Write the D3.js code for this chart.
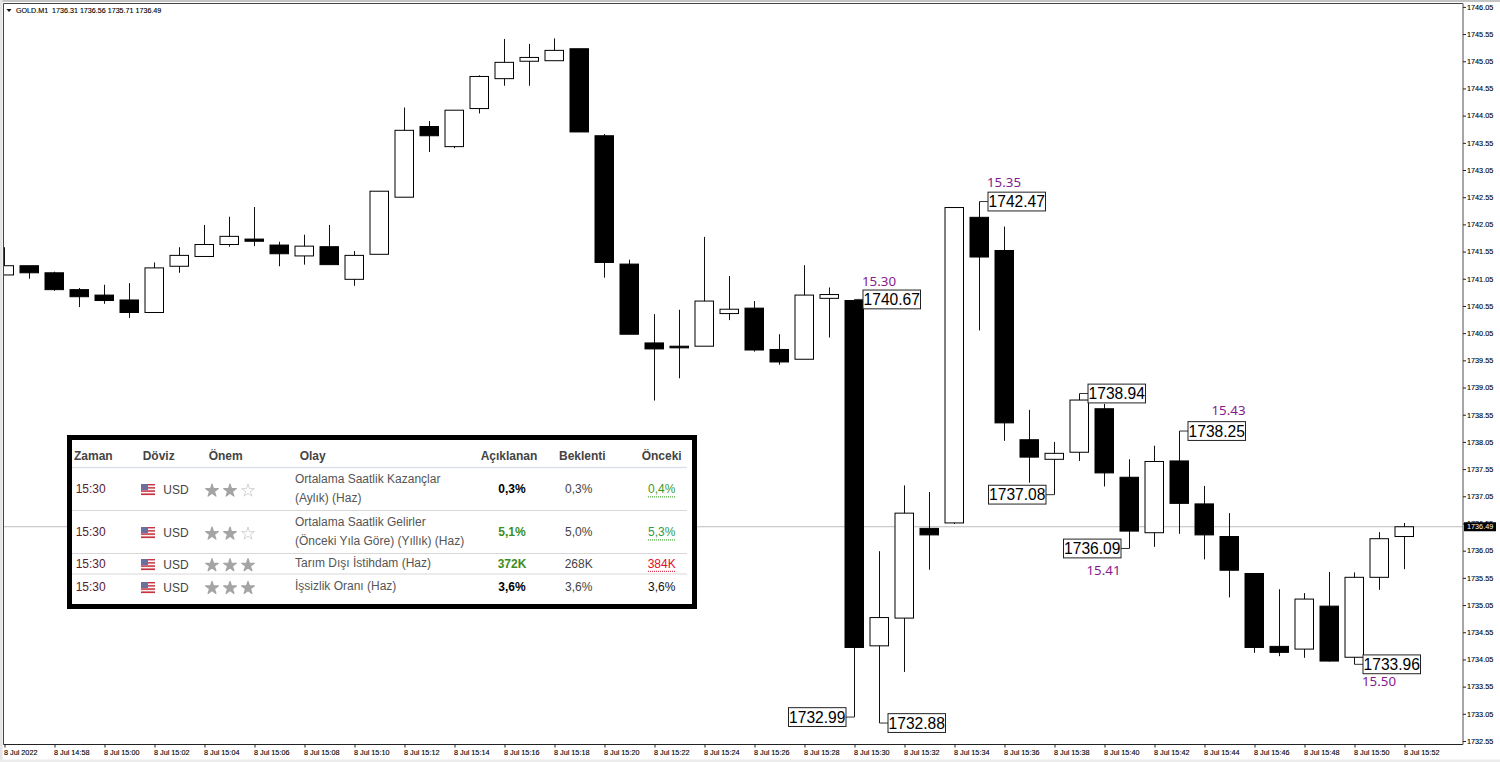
<!DOCTYPE html>
<html><head><meta charset="utf-8">
<script src="https://cdnjs.cloudflare.com/ajax/libs/d3/7.8.5/d3.min.js"></script>
<style>
html,body{margin:0;padding:0;background:#fff;overflow:hidden}
svg{display:block}
text{white-space:pre}
</style></head><body>
<svg id="c" width="1500" height="762"></svg>
<script>
const symbolName = "GOLD.M1";
const lastOHLC = ["1736.31","1736.56","1735.71","1736.49"];
const startMinute = 14*60+56;
const opens  = [1741.12,1741.29,1741.16,1740.85,1740.75,1740.66,1740.43,1741.28,1741.46,1741.68,1741.78,1741.67,1741.47,1741.64,1741.04,1741.50,1742.55,1743.85,1743.48,1744.18,1744.73,1745.05,1745.06,1745.28,1743.68,1741.32,1739.87,1739.81,1739.81,1740.41,1740.51,1739.75,1739.57,1740.69,1740.65,1734.30,1734.81,1736.46,1736.56,1742.18,1741.57,1738.09,1737.73,1737.86,1738.66,1737.40,1736.38,1737.70,1736.91,1736.31,1735.63,1734.29,1734.24,1735.03,1734.09,1735.56,1736.31];
const highs  = [1741.63,1741.29,1741.18,1740.88,1740.94,1740.97,1741.35,1741.63,1742.04,1742.19,1742.37,1741.73,1741.86,1742.04,1741.56,1742.66,1744.20,1743.95,1744.15,1744.79,1745.46,1745.37,1745.47,1745.28,1743.71,1741.40,1740.40,1740.48,1741.82,1741.10,1740.64,1740.03,1741.30,1740.89,1740.67,1736.04,1737.25,1737.13,1742.36,1742.47,1742.01,1738.64,1738.05,1738.94,1738.75,1737.73,1737.98,1738.25,1737.24,1736.74,1735.63,1735.34,1735.27,1735.66,1735.65,1736.39,1736.56];
const lows   = [1741.12,1741.05,1740.83,1740.53,1740.59,1740.33,1740.43,1741.16,1741.46,1741.64,1741.65,1741.28,1741.31,1741.31,1740.92,1741.50,1742.55,1743.38,1743.45,1744.09,1744.60,1744.60,1745.06,1743.75,1741.07,1740.03,1738.81,1739.22,1739.81,1740.29,1739.71,1739.47,1739.57,1739.97,1732.99,1732.88,1733.82,1735.70,1736.54,1740.10,1738.07,1737.30,1737.08,1737.70,1737.23,1736.09,1736.12,1736.36,1735.89,1735.19,1734.17,1734.11,1734.08,1734.01,1733.96,1735.33,1735.71];
const closes = [1741.29,1741.16,1740.85,1740.72,1740.65,1740.43,1741.25,1741.48,1741.68,1741.83,1741.74,1741.51,1741.65,1741.31,1741.48,1742.66,1743.78,1743.68,1744.15,1744.77,1745.03,1745.12,1745.25,1743.75,1741.35,1740.03,1739.76,1739.78,1740.64,1740.49,1739.74,1739.52,1740.75,1740.76,1734.27,1734.82,1736.74,1736.34,1742.36,1741.45,1738.40,1737.77,1737.84,1738.82,1737.48,1736.41,1737.69,1736.92,1736.34,1735.69,1734.27,1734.18,1735.16,1734.02,1735.56,1736.27,1736.49];

const priceTicks = d3.range(0,28).map(i => +(1732.55+i*0.5).toFixed(2));
const timeTickMinutes = d3.range(0,57,2);

// swing annotations: candle index, price, time text, box side, time-label offset
const swingIdx    = [34,35,34,39,42,43,45,47,54];
const swingPrice  = [1732.99,1732.88,1740.67,1742.47,1737.08,1738.94,1736.09,1738.25,1733.96];
const swingSide   = ["left","right","right","right","left","right","left","right","right"];
const swingTime   = ["","","15.30","15.35","","","15.41","15.43","15.50"];
const swingTimeDy = [0,0,-13.7,-14.3,0,0,26.7,-16,21.3];
const swingTimeDx = [0,0,-1,-1,0,0,23,23.5,-1];

// calendar table
const headers = ["Zaman","Döviz","Önem","Olay","Açıklanan","Beklenti","Önceki"];
const rowTimes = ["15:30","15:30","15:30","15:30"];
const rowCurrency = ["USD","USD","USD","USD"];
const rowStars = [2,2,3,3];
const rowEvents = [["Ortalama Saatlik Kazançlar","(Aylık) (Haz)"],["Ortalama Saatlik Gelirler","(Önceki Yıla Göre) (Yıllık) (Haz)"],["Tarım Dışı İstihdam (Haz)"],["İşsizlik Oranı (Haz)"]];
const rowActual = ["0,3%","5,1%","372K","3,6%"];
const rowForecast = ["0,3%","5,0%","268K","3,6%"];
const rowPrevious = ["0,4%","5,3%","384K","3,6%"];
const actualColors = ["#000","#3c8f1e","#3c8f1e","#000"];
const previousColors = ["#3c9a1e","#2f9a4a","#e0102a","#111"];
const previousUnderline = ["#2aa012","#2aa012","#d8102a",null];

const svg = d3.select("#c");
const L=3.5,R=1463,T=3.5,B=744.5;
const x = d3.scaleLinear().domain([0,56]).range([4.5,1404.5]);
const y = d3.scaleLinear().domain([1732.55,1746.05]).range([741,6.87]);
const sans = "'Liberation Sans',Arial,sans-serif";

// window chrome
svg.append("rect").attr("width",1500).attr("height",2).attr("fill","#c4c4c4");
svg.append("rect").attr("width",2.5).attr("height",762).attr("fill","#e4e4e4");
svg.append("rect").attr("y",759.5).attr("width",1500).attr("height",2.5).attr("fill","#ececec");
svg.append("defs").append("clipPath").attr("id","plot").append("rect").attr("x",L).attr("y",T).attr("width",R-L).attr("height",B-T);

// price line
svg.append("line").attr("x1",L).attr("x2",R).attr("y1",y(+lastOHLC[3])).attr("y2",y(+lastOHLC[3])).attr("stroke","#bdbdbd").attr("stroke-width",1);

// candles
const candles = svg.append("g").attr("clip-path","url(#plot)").selectAll("g").data(opens.map((o,i)=>({i,o,h:highs[i],l:lows[i],c:closes[i]}))).join("g");
candles.append("line").attr("x1",d=>x(d.i)).attr("x2",d=>x(d.i)).attr("y1",d=>y(d.h)).attr("y2",d=>y(d.l)).attr("stroke","#111").attr("stroke-width",1);
candles.append("rect").attr("x",d=>x(d.i)-9.5).attr("width",18.5)
  .attr("y",d=>y(Math.max(d.o,d.c))).attr("height",d=>Math.abs(y(d.o)-y(d.c)))
  .attr("fill",d=>d.c>=d.o?"#fff":"#000").attr("stroke","#000").attr("stroke-width",1);

// frame
svg.append("path").attr("d",`M${L},${B}V${T}H${R}`).attr("fill","none").attr("stroke","#444").attr("stroke-width",1);
svg.append("line").attr("x1",L).attr("x2",R).attr("y1",B).attr("y2",B).attr("stroke","#222").attr("stroke-width",1);
svg.append("line").attr("x1",R).attr("x2",R).attr("y1",T).attr("y2",B).attr("stroke","#808080").attr("stroke-width",1.4);

// y axis
const smallText = s => s.attr("font-family",sans).attr("font-size",7.25).attr("fill","#000").attr("stroke","#000").attr("stroke-width",0.12);
const yAxis = svg.append("g").attr("transform",`translate(${R},0)`)
  .call(d3.axisRight(y).tickValues(priceTicks).tickSize(3).tickPadding(1).tickFormat(d3.format(".2f")));
yAxis.select(".domain").remove();
yAxis.selectAll("line").attr("stroke","#222");
yAxis.selectAll("text").call(smallText);

// x axis
const fmtTick = m => { if(m===0) return "8 Jul 2022"; const t=startMinute+m; return `8 Jul ${String(Math.floor(t/60)).padStart(2,"0")}:${String(t%60).padStart(2,"0")}`; };
const xAxis = svg.append("g").attr("transform",`translate(0,${B})`)
  .call(d3.axisBottom(x).tickValues(timeTickMinutes).tickSize(3).tickPadding(2).tickFormat(fmtTick));
xAxis.select(".domain").remove();
xAxis.selectAll("line").attr("stroke","#222");
xAxis.selectAll("text").call(smallText).attr("text-anchor","start").attr("dx",-1);

// last price tag
const tagY = y(+lastOHLC[3]);
svg.append("rect").attr("x",R+1).attr("y",tagY-4.5).attr("width",32).attr("height",9).attr("fill","#000");
svg.append("text").attr("x",R+4).attr("y",tagY+2.6).attr("font-family",sans).attr("font-size",7.25).attr("fill","#fff").text(lastOHLC[3]);

// legend
svg.append("path").attr("d",d3.line()([[6.5,9],[11.5,9],[9,12]])+"Z").attr("fill","#111");
svg.append("text").attr("x",16).attr("y",12.5).call(smallText).attr("font-size",7.15)
  .text(symbolName+"  "+lastOHLC.join(" "));

// swing annotations
const boxW=57.5, boxH=18.8, gap=8.5;
const ann = svg.append("g").selectAll("g").data(swingIdx.map((idx,k)=>({idx,p:swingPrice[k],side:swingSide[k],t:swingTime[k],dy:swingTimeDy[k],dx:swingTimeDx[k]}))).join("g");
ann.append("line").attr("x1",d=>x(d.idx)).attr("x2",d=>x(d.idx)+(d.side==="right"?gap:-gap)).attr("y1",d=>y(d.p)).attr("y2",d=>y(d.p)).attr("stroke","#333").attr("stroke-width",1);
const bx = d => d.side==="right"? x(d.idx)+gap : x(d.idx)-gap-boxW;
ann.append("rect").attr("x",bx).attr("y",d=>y(d.p)-boxH/2).attr("width",boxW).attr("height",boxH).attr("fill","#fff").attr("stroke","#222").attr("stroke-width",1);
ann.append("text").attr("x",d=>bx(d)+boxW/2).attr("y",d=>y(d.p)+5.8).attr("text-anchor","middle").attr("font-family",sans).attr("font-size",15.6).attr("fill","#000").text(d=>d.p.toFixed(2));
ann.filter(d=>d.t).append("text").attr("x",d=>bx(d)+d.dx).attr("y",d=>y(d.p)+d.dy)
  .attr("font-family","'Noto Sans','Open Sans',sans-serif").attr("font-size",13.3).attr("fill","#851a8f").text(d=>d.t);

// table
const tb = svg.append("g");
tb.append("rect").attr("x",69.5).attr("y",437.5).attr("width",625).attr("height",169).attr("fill","#fff").attr("stroke","#000").attr("stroke-width",5);
const rowRules = [467.5,510.5,553.5,574];
tb.selectAll("line.r").data(rowRules).join("line").attr("x1",72).attr("x2",687).attr("y1",d=>d).attr("y2",d=>d).attr("stroke",(d,i)=>i?"#d8d8d8":"#dde1e6").attr("stroke-width",(d,i)=>i?1:1.4);
const headerX=[74,142.7,208.7,299.7,480.7,559,641.7];
tb.selectAll("text.h").data(headers).join("text").attr("x",(d,i)=>headerX[i]).attr("y",460).attr("font-family",sans).attr("font-weight",700).attr("font-size",12).attr("fill","#444").text(d=>d);

const baseY=[493.3,536.3,567.7,590.7];
const flagTop=[484,527,559,582];
const starY=[490.7,533.7,565.3,588];
const eventY=[[482.7,502],[525.7,545],[567],[589.7]];
const cell=(xx,yy,t,col,w,anchor)=>tb.append("text").attr("x",xx).attr("y",yy).attr("font-family",sans).attr("font-size",12).attr("font-weight",w||400).attr("fill",col).attr("text-anchor",anchor||"start").text(t);
const star=d3.symbol().type(d3.symbolStar).size(50);
const stripeColors=d3.range(7).map(i=>i%2?"#f4f4f4":"#c8313f");
rowTimes.forEach((t,i)=>{
  cell(75.7,baseY[i],t,"#5a2030");
  const f=tb.append("g").attr("transform",`translate(141,${flagTop[i]})`);
  stripeColors.forEach((c,k)=>f.append("rect").attr("y",k*11/7).attr("width",14).attr("height",11/7+.1).attr("fill",c));
  f.append("rect").attr("width",7).attr("height",6).attr("fill","#6a6f9e");
  cell(163.3,baseY[i]+.8,rowCurrency[i],"#444");
  [212,230,248].forEach((sx,k)=>tb.append("path").attr("d",star).attr("transform",`translate(${sx},${starY[i]})`)
    .attr("fill",k<rowStars[i]?"#a4a4a4":"#fff").attr("stroke",k<rowStars[i]?"#a4a4a4":"#c8c8c8").attr("stroke-linejoin","round").attr("stroke-width",k<rowStars[i]?1.2:.8));
  rowEvents[i].forEach((e,k)=>cell(295,eventY[i][k],e,"#555"));
  cell(512,baseY[i],rowActual[i],actualColors[i],700,"middle");
  cell(578.7,baseY[i],rowForecast[i],"#444",400,"middle");
  cell(661.7,baseY[i],rowPrevious[i],previousColors[i],400,"middle");
  if(previousUnderline[i]) tb.append("line").attr("x1",648).attr("x2",675).attr("y1",baseY[i]+3.6).attr("y2",baseY[i]+3.6).attr("stroke",previousUnderline[i]).attr("stroke-width",1).attr("stroke-dasharray","1 1");
});
</script>
</body></html>
